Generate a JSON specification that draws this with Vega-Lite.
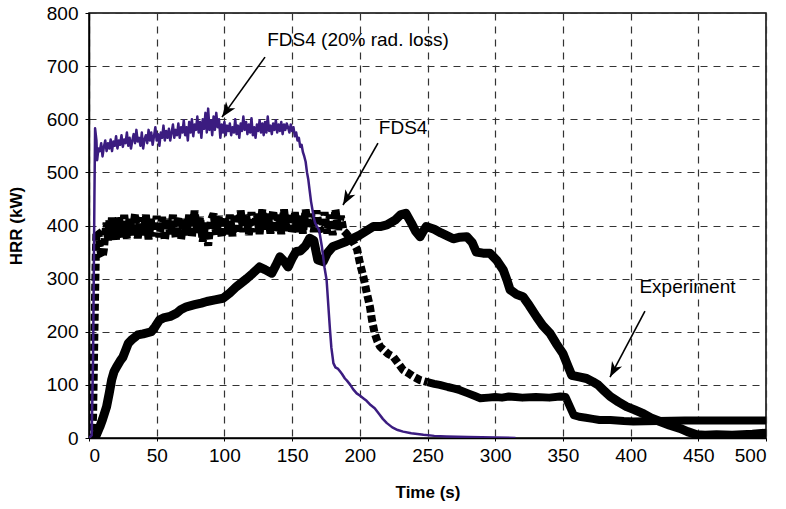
{
  "$schema": "https://vega.github.io/schema/vega-lite/v6.json",
  "width": 677,
  "height": 425,
  "autosize": {"type": "none"},
  "padding": {"left": 89, "top": 13, "right": 20, "bottom": 71},
  "background": "white",
  "config": {
    "view": {"stroke": "black", "strokeWidth": 1.5},
    "font": "Liberation Sans",
    "axis": {
      "labelFont": "Liberation Sans",
      "labelFontSize": 19,
      "labelColor": "black",
      "titleFont": "Liberation Sans",
      "titleFontSize": 17,
      "titleFontWeight": "bold",
      "titleColor": "black",
      "domainColor": "black",
      "domainWidth": 1.5,
      "tickColor": "black",
      "grid": true,
      "gridColor": "#333333",
      "gridDash": [7, 6],
      "gridWidth": 1.2
    }
  },
  "datasets": {
    "experiment": [
      {"t": 3, "hrr": 0}, {"t": 5, "hrr": 3}, {"t": 8, "hrr": 21}, {"t": 10, "hrr": 35}, {"t": 13, "hrr": 59},
      {"t": 15, "hrr": 85}, {"t": 16.7, "hrr": 109}, {"t": 18.5, "hrr": 125}, {"t": 20.4, "hrr": 134}, {"t": 23, "hrr": 145},
      {"t": 25, "hrr": 152}, {"t": 27, "hrr": 165}, {"t": 29, "hrr": 178}, {"t": 32, "hrr": 186}, {"t": 36, "hrr": 194},
      {"t": 40, "hrr": 196}, {"t": 46, "hrr": 200}, {"t": 49, "hrr": 210}, {"t": 52, "hrr": 222}, {"t": 55, "hrr": 226},
      {"t": 60, "hrr": 229}, {"t": 64.8, "hrr": 235}, {"t": 68, "hrr": 242}, {"t": 72, "hrr": 247}, {"t": 78, "hrr": 251},
      {"t": 83, "hrr": 254}, {"t": 87, "hrr": 257}, {"t": 93, "hrr": 260}, {"t": 99, "hrr": 263}, {"t": 104, "hrr": 273},
      {"t": 109, "hrr": 285}, {"t": 113, "hrr": 293}, {"t": 116.5, "hrr": 300}, {"t": 121, "hrr": 310}, {"t": 126, "hrr": 322},
      {"t": 130, "hrr": 317}, {"t": 135, "hrr": 310}, {"t": 138, "hrr": 325}, {"t": 141, "hrr": 341}, {"t": 144, "hrr": 333},
      {"t": 147, "hrr": 322}, {"t": 150, "hrr": 338}, {"t": 153, "hrr": 351}, {"t": 156, "hrr": 352}, {"t": 160, "hrr": 362},
      {"t": 163, "hrr": 376}, {"t": 166, "hrr": 372}, {"t": 169, "hrr": 335}, {"t": 173, "hrr": 332}, {"t": 176, "hrr": 348},
      {"t": 180, "hrr": 360}, {"t": 185, "hrr": 365}, {"t": 190, "hrr": 370}, {"t": 195, "hrr": 376}, {"t": 200, "hrr": 382},
      {"t": 205, "hrr": 390}, {"t": 210, "hrr": 398}, {"t": 215, "hrr": 398}, {"t": 220, "hrr": 401}, {"t": 226, "hrr": 410},
      {"t": 230, "hrr": 420}, {"t": 234, "hrr": 423}, {"t": 238, "hrr": 405}, {"t": 241, "hrr": 390}, {"t": 244.5, "hrr": 379},
      {"t": 247, "hrr": 390}, {"t": 249, "hrr": 398}, {"t": 255, "hrr": 393}, {"t": 260, "hrr": 386}, {"t": 265, "hrr": 380},
      {"t": 269, "hrr": 375}, {"t": 274, "hrr": 378}, {"t": 279, "hrr": 379}, {"t": 283, "hrr": 368}, {"t": 286, "hrr": 350},
      {"t": 291, "hrr": 348}, {"t": 296, "hrr": 348}, {"t": 301, "hrr": 335}, {"t": 306, "hrr": 316}, {"t": 309, "hrr": 295},
      {"t": 311, "hrr": 279}, {"t": 316, "hrr": 270}, {"t": 320.5, "hrr": 266}, {"t": 325, "hrr": 250}, {"t": 330.6, "hrr": 228},
      {"t": 335, "hrr": 212}, {"t": 340.5, "hrr": 197}, {"t": 345, "hrr": 178}, {"t": 350, "hrr": 159}, {"t": 353, "hrr": 140},
      {"t": 356.5, "hrr": 118}, {"t": 362, "hrr": 115}, {"t": 367.5, "hrr": 112}, {"t": 372, "hrr": 106}, {"t": 376, "hrr": 100},
      {"t": 380, "hrr": 90}, {"t": 385, "hrr": 78}, {"t": 391, "hrr": 68}, {"t": 397, "hrr": 59}, {"t": 403, "hrr": 53},
      {"t": 409.4, "hrr": 46}, {"t": 415, "hrr": 38}, {"t": 421.7, "hrr": 31}, {"t": 429, "hrr": 24}, {"t": 436.5, "hrr": 18},
      {"t": 442, "hrr": 12}, {"t": 448.8, "hrr": 6}, {"t": 455, "hrr": 5}, {"t": 463.5, "hrr": 6}, {"t": 475, "hrr": 5},
      {"t": 490, "hrr": 7}, {"t": 500, "hrr": 9}
    ],
    "fds4": [
      {"t": 0, "hrr": 0}, {"t": 2, "hrr": 0}, {"t": 3, "hrr": 40}, {"t": 4, "hrr": 200}, {"t": 5, "hrr": 340},
      {"t": 5.5, "hrr": 390}, {"t": 7, "hrr": 385}, {"t": 8, "hrr": 360}, {"t": 9, "hrr": 345}, {"t": 10, "hrr": 340},
      {"t": 11, "hrr": 355}, {"t": 12, "hrr": 385}, {"t": 13, "hrr": 405}, {"t": 14, "hrr": 372}, {"t": 15, "hrr": 410},
      {"t": 16, "hrr": 378}, {"t": 17, "hrr": 418}, {"t": 18, "hrr": 380}, {"t": 19, "hrr": 412}, {"t": 20, "hrr": 372},
      {"t": 22, "hrr": 415}, {"t": 24, "hrr": 378}, {"t": 26, "hrr": 420}, {"t": 28, "hrr": 375}, {"t": 30, "hrr": 415},
      {"t": 32, "hrr": 382}, {"t": 34, "hrr": 422}, {"t": 36, "hrr": 376}, {"t": 38, "hrr": 415}, {"t": 40, "hrr": 382},
      {"t": 42, "hrr": 420}, {"t": 44, "hrr": 374}, {"t": 46, "hrr": 412}, {"t": 48, "hrr": 380}, {"t": 50, "hrr": 418},
      {"t": 52, "hrr": 378}, {"t": 54, "hrr": 416}, {"t": 56, "hrr": 372}, {"t": 58, "hrr": 412}, {"t": 60, "hrr": 384},
      {"t": 62, "hrr": 420}, {"t": 64, "hrr": 378}, {"t": 66, "hrr": 416}, {"t": 68, "hrr": 374}, {"t": 70, "hrr": 412},
      {"t": 72, "hrr": 382}, {"t": 74, "hrr": 420}, {"t": 76, "hrr": 378}, {"t": 78, "hrr": 428}, {"t": 80, "hrr": 384},
      {"t": 82, "hrr": 416}, {"t": 84, "hrr": 370}, {"t": 86, "hrr": 405}, {"t": 88, "hrr": 362}, {"t": 90, "hrr": 410},
      {"t": 92, "hrr": 422}, {"t": 94, "hrr": 382}, {"t": 96, "hrr": 418}, {"t": 98, "hrr": 378}, {"t": 100, "hrr": 416},
      {"t": 102, "hrr": 384}, {"t": 104, "hrr": 420}, {"t": 106, "hrr": 380}, {"t": 108, "hrr": 422}, {"t": 110, "hrr": 385},
      {"t": 112, "hrr": 428}, {"t": 114, "hrr": 388}, {"t": 116, "hrr": 420}, {"t": 118, "hrr": 382}, {"t": 120, "hrr": 425},
      {"t": 122, "hrr": 388}, {"t": 124, "hrr": 422}, {"t": 126, "hrr": 384}, {"t": 128, "hrr": 430}, {"t": 130, "hrr": 390},
      {"t": 132, "hrr": 422}, {"t": 134, "hrr": 385}, {"t": 136, "hrr": 428}, {"t": 138, "hrr": 388}, {"t": 140, "hrr": 420},
      {"t": 142, "hrr": 384}, {"t": 144, "hrr": 430}, {"t": 146, "hrr": 390}, {"t": 148, "hrr": 422}, {"t": 150, "hrr": 385},
      {"t": 152, "hrr": 425}, {"t": 154, "hrr": 388}, {"t": 156, "hrr": 420}, {"t": 158, "hrr": 385}, {"t": 160, "hrr": 430},
      {"t": 162, "hrr": 395}, {"t": 164, "hrr": 422}, {"t": 166, "hrr": 388}, {"t": 168, "hrr": 428}, {"t": 170, "hrr": 395},
      {"t": 172, "hrr": 390}, {"t": 174, "hrr": 425}, {"t": 176, "hrr": 385}, {"t": 178, "hrr": 420}, {"t": 180, "hrr": 382},
      {"t": 182, "hrr": 430}, {"t": 184, "hrr": 392}, {"t": 186, "hrr": 418}, {"t": 188, "hrr": 390}, {"t": 190, "hrr": 385},
      {"t": 193, "hrr": 375}, {"t": 196, "hrr": 365}, {"t": 198, "hrr": 355}, {"t": 200, "hrr": 330}, {"t": 202.6, "hrr": 304},
      {"t": 205, "hrr": 275}, {"t": 207.5, "hrr": 247}, {"t": 209, "hrr": 222}, {"t": 211, "hrr": 197}, {"t": 213, "hrr": 182},
      {"t": 215, "hrr": 172}, {"t": 218, "hrr": 165}, {"t": 221, "hrr": 158}, {"t": 224.7, "hrr": 153}, {"t": 228, "hrr": 142},
      {"t": 232, "hrr": 128}, {"t": 236, "hrr": 122}, {"t": 240, "hrr": 115}, {"t": 244.5, "hrr": 109}, {"t": 250, "hrr": 105},
      {"t": 255, "hrr": 102}, {"t": 259, "hrr": 100}, {"t": 265, "hrr": 96}, {"t": 270, "hrr": 93}, {"t": 274, "hrr": 90},
      {"t": 280, "hrr": 84}, {"t": 285, "hrr": 79}, {"t": 289, "hrr": 75}, {"t": 295, "hrr": 76}, {"t": 300, "hrr": 77},
      {"t": 305, "hrr": 76}, {"t": 310, "hrr": 78}, {"t": 315, "hrr": 77}, {"t": 320, "hrr": 76}, {"t": 330, "hrr": 77},
      {"t": 340, "hrr": 76}, {"t": 348, "hrr": 78}, {"t": 352, "hrr": 77}, {"t": 355, "hrr": 60}, {"t": 358, "hrr": 43},
      {"t": 362, "hrr": 40}, {"t": 367, "hrr": 38}, {"t": 372, "hrr": 36}, {"t": 377, "hrr": 34}, {"t": 385, "hrr": 34},
      {"t": 395, "hrr": 32}, {"t": 402, "hrr": 31}, {"t": 420, "hrr": 32}, {"t": 440, "hrr": 33}, {"t": 460, "hrr": 33},
      {"t": 480, "hrr": 33}, {"t": 500, "hrr": 33}
    ],
    "fds4rad": [
      {"t": 0, "hrr": 0}, {"t": 2, "hrr": 5}, {"t": 3, "hrr": 150}, {"t": 4, "hrr": 450}, {"t": 4.5, "hrr": 583},
      {"t": 5.5, "hrr": 560}, {"t": 6, "hrr": 523}, {"t": 7, "hrr": 545}, {"t": 8, "hrr": 540}, {"t": 9, "hrr": 555},
      {"t": 10, "hrr": 530}, {"t": 11, "hrr": 548}, {"t": 12, "hrr": 560}, {"t": 13, "hrr": 540}, {"t": 14, "hrr": 555},
      {"t": 15, "hrr": 545}, {"t": 16, "hrr": 562}, {"t": 17, "hrr": 540}, {"t": 18, "hrr": 558}, {"t": 19, "hrr": 550},
      {"t": 20, "hrr": 568}, {"t": 21, "hrr": 545}, {"t": 22, "hrr": 560}, {"t": 23, "hrr": 552}, {"t": 24, "hrr": 570},
      {"t": 25, "hrr": 548}, {"t": 26, "hrr": 562}, {"t": 27, "hrr": 555}, {"t": 28, "hrr": 575}, {"t": 29, "hrr": 550},
      {"t": 30, "hrr": 565}, {"t": 31, "hrr": 545}, {"t": 32, "hrr": 560}, {"t": 33, "hrr": 572}, {"t": 34, "hrr": 555},
      {"t": 35, "hrr": 580}, {"t": 36, "hrr": 558}, {"t": 37, "hrr": 565}, {"t": 38, "hrr": 550}, {"t": 39, "hrr": 575},
      {"t": 40, "hrr": 545}, {"t": 41, "hrr": 562}, {"t": 42, "hrr": 570}, {"t": 43, "hrr": 555}, {"t": 44, "hrr": 580},
      {"t": 45, "hrr": 560}, {"t": 46, "hrr": 575}, {"t": 47, "hrr": 552}, {"t": 48, "hrr": 568}, {"t": 49, "hrr": 585},
      {"t": 50, "hrr": 560}, {"t": 51, "hrr": 572}, {"t": 52, "hrr": 550}, {"t": 53, "hrr": 575}, {"t": 54, "hrr": 565},
      {"t": 55, "hrr": 588}, {"t": 56, "hrr": 560}, {"t": 57, "hrr": 578}, {"t": 58, "hrr": 565}, {"t": 59, "hrr": 582},
      {"t": 60, "hrr": 560}, {"t": 61, "hrr": 575}, {"t": 62, "hrr": 590}, {"t": 63, "hrr": 565}, {"t": 64, "hrr": 580},
      {"t": 65, "hrr": 570}, {"t": 66, "hrr": 592}, {"t": 67, "hrr": 565}, {"t": 68, "hrr": 585}, {"t": 69, "hrr": 575},
      {"t": 70, "hrr": 598}, {"t": 71, "hrr": 570}, {"t": 72, "hrr": 585}, {"t": 73, "hrr": 560}, {"t": 74, "hrr": 595},
      {"t": 75, "hrr": 575}, {"t": 76, "hrr": 600}, {"t": 77, "hrr": 568}, {"t": 78, "hrr": 590}, {"t": 79, "hrr": 580},
      {"t": 80, "hrr": 605}, {"t": 81, "hrr": 575}, {"t": 82, "hrr": 595}, {"t": 83, "hrr": 565}, {"t": 84, "hrr": 600},
      {"t": 85, "hrr": 582}, {"t": 86, "hrr": 612}, {"t": 87, "hrr": 575}, {"t": 88, "hrr": 620}, {"t": 89, "hrr": 580},
      {"t": 90, "hrr": 598}, {"t": 91, "hrr": 570}, {"t": 92, "hrr": 605}, {"t": 93, "hrr": 580}, {"t": 94, "hrr": 612},
      {"t": 95, "hrr": 585}, {"t": 96, "hrr": 600}, {"t": 97, "hrr": 565}, {"t": 98, "hrr": 590}, {"t": 99, "hrr": 575},
      {"t": 100, "hrr": 595}, {"t": 101, "hrr": 570}, {"t": 102, "hrr": 588}, {"t": 103, "hrr": 578}, {"t": 104, "hrr": 592},
      {"t": 105, "hrr": 570}, {"t": 106, "hrr": 585}, {"t": 107, "hrr": 575}, {"t": 108, "hrr": 600}, {"t": 109, "hrr": 572},
      {"t": 110, "hrr": 588}, {"t": 111, "hrr": 565}, {"t": 112, "hrr": 592}, {"t": 113, "hrr": 578}, {"t": 114, "hrr": 605},
      {"t": 115, "hrr": 580}, {"t": 116, "hrr": 595}, {"t": 117, "hrr": 572}, {"t": 118, "hrr": 590}, {"t": 119, "hrr": 575},
      {"t": 120, "hrr": 602}, {"t": 121, "hrr": 570}, {"t": 122, "hrr": 585}, {"t": 123, "hrr": 565}, {"t": 124, "hrr": 590},
      {"t": 125, "hrr": 578}, {"t": 126, "hrr": 598}, {"t": 127, "hrr": 575}, {"t": 128, "hrr": 592}, {"t": 129, "hrr": 570},
      {"t": 130, "hrr": 595}, {"t": 131, "hrr": 575}, {"t": 132, "hrr": 605}, {"t": 133, "hrr": 578}, {"t": 134, "hrr": 588},
      {"t": 135, "hrr": 572}, {"t": 136, "hrr": 592}, {"t": 137, "hrr": 580}, {"t": 138, "hrr": 598}, {"t": 139, "hrr": 575},
      {"t": 140, "hrr": 590}, {"t": 141, "hrr": 578}, {"t": 142, "hrr": 595}, {"t": 143, "hrr": 572}, {"t": 144, "hrr": 590},
      {"t": 145, "hrr": 580}, {"t": 146, "hrr": 592}, {"t": 147, "hrr": 585}, {"t": 148, "hrr": 575}, {"t": 149, "hrr": 590},
      {"t": 150, "hrr": 578}, {"t": 151, "hrr": 585}, {"t": 152, "hrr": 568}, {"t": 153, "hrr": 575}, {"t": 154, "hrr": 560},
      {"t": 155, "hrr": 565}, {"t": 156, "hrr": 548}, {"t": 157, "hrr": 552}, {"t": 158, "hrr": 538}, {"t": 159, "hrr": 530},
      {"t": 160, "hrr": 520}, {"t": 161, "hrr": 500}, {"t": 162, "hrr": 486}, {"t": 163, "hrr": 465}, {"t": 164, "hrr": 445},
      {"t": 165, "hrr": 430}, {"t": 166, "hrr": 415}, {"t": 167, "hrr": 405}, {"t": 168, "hrr": 400}, {"t": 170, "hrr": 391},
      {"t": 172, "hrr": 360}, {"t": 174, "hrr": 320}, {"t": 175.5, "hrr": 297}, {"t": 177, "hrr": 240}, {"t": 178, "hrr": 203},
      {"t": 179, "hrr": 170}, {"t": 180.5, "hrr": 141}, {"t": 182, "hrr": 133}, {"t": 184, "hrr": 130}, {"t": 185.5, "hrr": 125},
      {"t": 187, "hrr": 120}, {"t": 189, "hrr": 112}, {"t": 190.5, "hrr": 108}, {"t": 193, "hrr": 100}, {"t": 195, "hrr": 92},
      {"t": 197.7, "hrr": 84}, {"t": 200, "hrr": 80}, {"t": 203, "hrr": 74}, {"t": 205, "hrr": 70}, {"t": 208, "hrr": 62},
      {"t": 211, "hrr": 56}, {"t": 214, "hrr": 46}, {"t": 217, "hrr": 36}, {"t": 220, "hrr": 28}, {"t": 224, "hrr": 20},
      {"t": 228, "hrr": 15}, {"t": 232, "hrr": 12}, {"t": 238, "hrr": 9}, {"t": 247, "hrr": 6}, {"t": 255, "hrr": 4},
      {"t": 264, "hrr": 3}, {"t": 280, "hrr": 2}, {"t": 300, "hrr": 1}, {"t": 315, "hrr": 0}
    ],
    "labels": [
      {"label": "FDS4 (20% rad. loss)", "t": 198.7, "hrr": 749},
      {"label": "FDS4", "t": 232, "hrr": 583},
      {"label": "Experiment", "t": 442, "hrr": 284}
    ],
    "arrows": [
      {"name": "a1", "t": 130, "hrr": 717, "t2": 98.2, "hrr2": 604},
      {"name": "a2", "t": 213.4, "hrr": 555, "t2": 187.6, "hrr2": 438.6},
      {"name": "a3", "t": 410.6, "hrr": 239, "t2": 384.8, "hrr2": 114.8}
    ]
  },
  "encoding": {
    "x": {
      "field": "t", "type": "quantitative",
      "scale": {"domain": [0, 500], "nice": false},
      "axis": {"title": "Time (s)", "values": [0, 50, 100, 150, 200, 250, 300, 350, 400, 450, 500], "tickSize": 3, "labelPadding": 5, "titlePadding": 19}
    },
    "y": {
      "field": "hrr", "type": "quantitative",
      "scale": {"domain": [0, 800], "nice": false},
      "axis": {"title": "HRR (kW)", "values": [0, 100, 200, 300, 400, 500, 600, 700, 800], "tickSize": 4, "labelPadding": 7, "titlePadding": 21}
    }
  },
  "layer": [
    {
      "data": {"name": "experiment"},
      "mark": {"type": "line", "color": "black", "strokeWidth": 9, "strokeJoin": "round", "strokeCap": "round", "clip": true}
    },
    {
      "data": {"name": "fds4"},
      "transform": [{"filter": "datum.t <= 252"}],
      "mark": {"type": "line", "color": "black", "strokeWidth": 8, "strokeDash": [7, 3], "strokeJoin": "bevel", "clip": true}
    },
    {
      "data": {"name": "fds4"},
      "transform": [{"filter": "datum.t >= 250"}],
      "mark": {"type": "line", "color": "black", "strokeWidth": 8, "strokeJoin": "round", "clip": true}
    },
    {
      "data": {"name": "fds4rad"},
      "mark": {"type": "line", "color": "#3b1c80", "strokeWidth": 2.5, "strokeJoin": "round", "clip": true}
    },
    {
      "data": {"name": "arrows"},
      "mark": {"type": "rule", "color": "black", "strokeWidth": 1.6},
      "encoding": {
        "x2": {"field": "t2"},
        "y2": {"field": "hrr2"}
      }
    },
    {
      "data": {"name": "arrows"},
      "transform": [{"filter": "datum.name === 'a1'"}],
      "mark": {"type": "point", "shape": "M0,0 L0.38,1 L0,0.72 L-0.38,1 Z", "filled": true, "color": "black", "opacity": 1, "size": 900, "angle": 215.6},
      "encoding": {"x": {"field": "t2", "type": "quantitative"}, "y": {"field": "hrr2", "type": "quantitative"}}
    },
    {
      "data": {"name": "arrows"},
      "transform": [{"filter": "datum.name === 'a2'"}],
      "mark": {"type": "point", "shape": "M0,0 L0.38,1 L0,0.72 L-0.38,1 Z", "filled": true, "color": "black", "opacity": 1, "size": 900, "angle": 209.4},
      "encoding": {"x": {"field": "t2", "type": "quantitative"}, "y": {"field": "hrr2", "type": "quantitative"}}
    },
    {
      "data": {"name": "arrows"},
      "transform": [{"filter": "datum.name === 'a3'"}],
      "mark": {"type": "point", "shape": "M0,0 L0.38,1 L0,0.72 L-0.38,1 Z", "filled": true, "color": "black", "opacity": 1, "size": 900, "angle": 207.9},
      "encoding": {"x": {"field": "t2", "type": "quantitative"}, "y": {"field": "hrr2", "type": "quantitative"}}
    },
    {
      "data": {"name": "labels"},
      "mark": {"type": "text", "font": "Liberation Sans", "fontSize": 19, "color": "black", "align": "center", "baseline": "middle"},
      "encoding": {"text": {"field": "label"}}
    }
  ]
}
